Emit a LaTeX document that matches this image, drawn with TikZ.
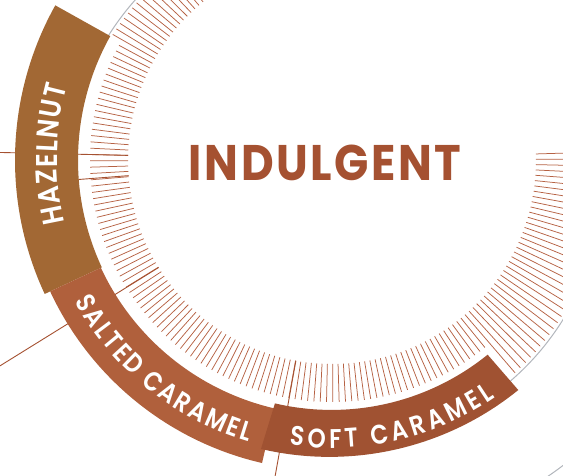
\documentclass[tikz,border=0pt]{standalone}
\usepackage{fontspec}
\setmainfont{Poppins SemiBold}
\newfontfamily\titlefont{Poppins Bold}[LetterSpace=5,FakeStretch=0.9]
\newfontfamily\labelfont{Poppins SemiBold}[FakeStretch=0.86]
\usetikzlibrary{decorations.text}
\definecolor{rust}{RGB}{165,81,49}
\definecolor{hatchc}{RGB}{182,98,68}
\definecolor{hazel}{RGB}{162,104,52}
\definecolor{salted}{RGB}{176,96,60}
\definecolor{softc}{RGB}{160,82,50}
\definecolor{rim}{RGB}{178,182,188}
\tikzset{sep/.style={rust,line width=0.9pt},
  tick/.style={hatchc,line width=0.75pt},
  rimline/.style={rim,line width=1pt},
  bandlabel/.style 2 args={decorate,decoration={text along path,text align={fit to path},
    text={|\labelfont\fontsize{#1}{#1}\selectfont\color{white}|#2}}}}

\begin{document}
\begin{tikzpicture}[x=1pt,y=1pt,line join=round]
\useasboundingbox (0,0) rectangle (563,476);
\clip (0,0) rectangle (563,476);
\coordinate (C) at (332,316);
\coordinate (G) at (335.5,298);
% --- hatched ring
\begin{scope}
\clip (G) circle[radius=265];
\foreach \a in {100.7,102.2,...,361.7} {\pgfmathsetmacro\ro{(\a>150.5 && \a<309.5) ? 242 : 300}
  \draw[tick] ([shift={(C)}]\a:204) -- ([shift={(C)}]\a:\ro);}
\end{scope}
% --- rims
\draw[rimline] ([shift={(G)}]128:268) arc[start angle=128,end angle=152,radius=268];
\draw[rimline] ([shift={(G)}]-55:268) arc[start angle=-55,end angle=-25,radius=268];
\draw[rimline] ([shift={(C)}]295:383) arc[start angle=295,end angle=320,radius=383];
% --- separators
\foreach \a/\r in {178.7/420,211.8/420,259.8/420,184.4/254} {\draw[sep] ([shift={(C)}]\a:204) -- ([shift={(C)}]\a:\r);}
% --- bands
\fill[hazel] ([shift={(C)}]150.8:254) arc[start angle=150.8,end angle=205,radius=254] -- ([shift={(C)}]205:317) arc[start angle=205,end angle=150.8,radius=317] -- cycle;
\fill[salted] ([shift={(C)}]205:255) arc[start angle=205,end angle=257,radius=255] -- ([shift={(C)}]257:311) arc[start angle=257,end angle=205,radius=311] -- cycle;
\fill[softc] ([shift={(C)}]256.8:250) arc[start angle=256.8,end angle=309,radius=248] -- ([shift={(C)}]309:296) arc[start angle=309,end angle=256.8,radius=300] -- cycle;
% --- labels
\path[bandlabel={30}{HAZELNUT}] ([shift={(C)}]193.2:275) arc[start angle=193.2,end angle=164.5,radius=275];
\path[bandlabel={27}{SALTED CARAMEL}] ([shift={(C)}]208.8:294) arc[start angle=208.8,end angle=253.5,radius=294];
\path[bandlabel={27}{SOFT CARAMEL}] ([shift={(C)}]261.5:288) arc[start angle=261.5,end angle=304.5,radius=288];
\node[anchor=base,text=rust,font=\titlefont\fontsize{50}{60}\selectfont] (title) at (325,295) {INDULGENT};
\end{tikzpicture}
\end{document}
